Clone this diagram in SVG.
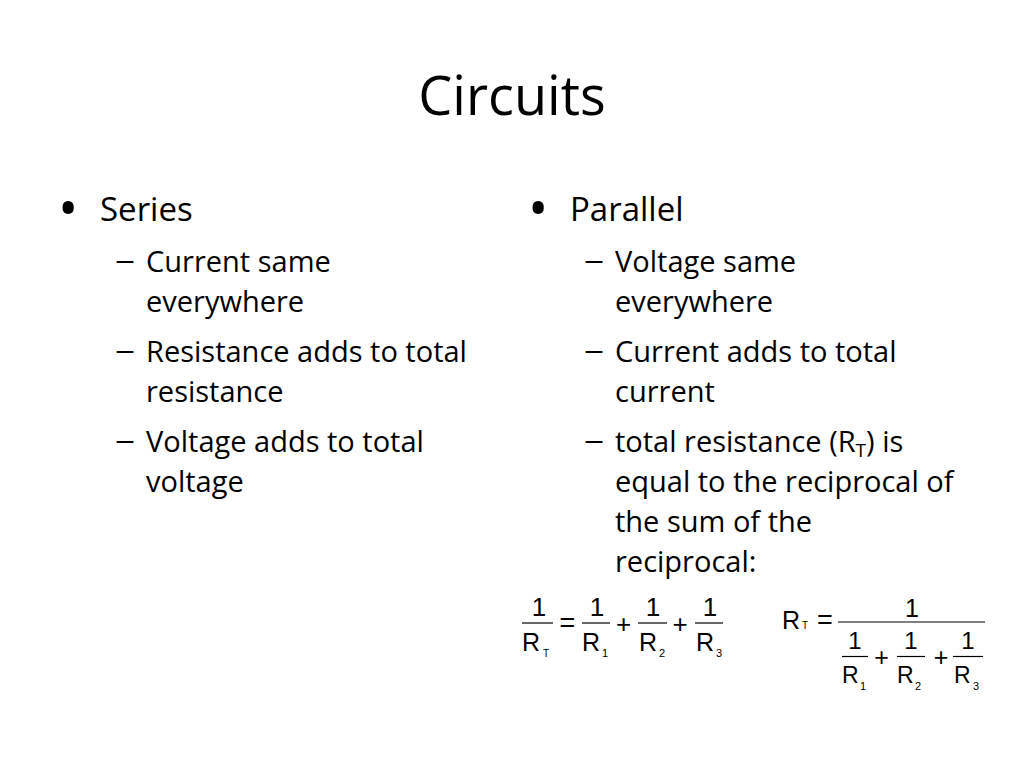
<svg xmlns="http://www.w3.org/2000/svg" width="1024" height="768" viewBox="0 0 1024 768">
<style>
.t{font-family:"Open Sans","Liberation Sans",sans-serif;fill:#000}
.title{font-size:54px}
.l1{font-size:33px}
.l2{font-size:29px}
.b{font-family:"Open Sans","Liberation Sans",sans-serif;font-size:54px;fill:#000}
.d{font-family:"Open Sans","Liberation Sans",sans-serif;font-size:29px;fill:#000}
.m{font-family:"Liberation Sans",Arial,sans-serif;fill:#000}
.fl{stroke:#000;stroke-width:1.2}
</style>
<rect width="1024" height="768" fill="#fff"/>
<g id="title"><text class="t title" x="512" y="115" text-anchor="middle">Circuits</text></g>
<g id="series">
<text class="b" x="58" y="228">•</text>
<text class="t l1" x="100" y="221">Series</text>
<text class="d" x="115" y="270" textLength="20" lengthAdjust="spacingAndGlyphs">–</text>
<text class="t l2" x="146" y="272">Current same</text>
<text class="t l2" x="146" y="312">everywhere</text>
<text class="d" x="115" y="360" textLength="20" lengthAdjust="spacingAndGlyphs">–</text>
<text class="t l2" x="146" y="362">Resistance adds to total</text>
<text class="t l2" x="146" y="402">resistance</text>
<text class="d" x="115" y="450" textLength="20" lengthAdjust="spacingAndGlyphs">–</text>
<text class="t l2" x="146" y="452">Voltage adds to total</text>
<text class="t l2" x="146" y="492">voltage</text>
</g>
<g id="parallel">
<text class="b" x="528" y="228">•</text>
<text class="t l1" x="570" y="221">Parallel</text>
<text class="d" x="584" y="270" textLength="20" lengthAdjust="spacingAndGlyphs">–</text>
<text class="t l2" x="615" y="272">Voltage same</text>
<text class="t l2" x="615" y="312">everywhere</text>
<text class="d" x="584" y="360" textLength="20" lengthAdjust="spacingAndGlyphs">–</text>
<text class="t l2" x="615" y="362">Current adds to total</text>
<text class="t l2" x="615" y="402">current</text>
<text class="d" x="584" y="450" textLength="20" lengthAdjust="spacingAndGlyphs">–</text>
<text class="t l2" x="615" y="452">total resistance (R<tspan font-size="19" dy="5">T</tspan><tspan dy="-5">) is</tspan></text>
<text class="t l2" x="615" y="492">equal to the reciprocal of</text>
<text class="t l2" x="615" y="532">the sum of the</text>
<text class="t l2" x="615" y="572">reciprocal:</text>
</g>
<g id="formula-series">
<line class="fl" x1="522" y1="623" x2="553" y2="623"/>
<text class="m" x="539" y="616" font-size="26" text-anchor="middle">1</text>
<text class="m" x="522" y="651" font-size="25">R</text>
<text class="m" x="543" y="657" font-size="10">T</text>
<text class="m" x="567.5" y="632" font-size="27" text-anchor="middle">=</text>
<line class="fl" x1="582" y1="623" x2="610" y2="623"/>
<text class="m" x="597" y="616" font-size="26" text-anchor="middle">1</text>
<text class="m" x="582" y="651" font-size="25">R</text>
<text class="m" x="602" y="657" font-size="11">1</text>
<text class="m" x="623.5" y="633" font-size="26" text-anchor="middle">+</text>
<line class="fl" x1="638" y1="623" x2="667" y2="623"/>
<text class="m" x="653" y="616" font-size="26" text-anchor="middle">1</text>
<text class="m" x="639" y="651" font-size="25">R</text>
<text class="m" x="659" y="657" font-size="11">2</text>
<text class="m" x="680" y="633" font-size="26" text-anchor="middle">+</text>
<line class="fl" x1="695" y1="623" x2="723" y2="623"/>
<text class="m" x="710" y="616" font-size="26" text-anchor="middle">1</text>
<text class="m" x="696" y="651" font-size="25">R</text>
<text class="m" x="716" y="657" font-size="11">3</text>
</g>
<g id="formula-parallel">
<text class="m" x="782" y="629" font-size="25">R</text>
<text class="m" x="802" y="629" font-size="10">T</text>
<text class="m" x="825" y="629" font-size="27" text-anchor="middle">=</text>
<line class="fl" x1="838" y1="622" x2="985" y2="622"/>
<text class="m" x="912" y="617" font-size="25" text-anchor="middle">1</text>
<line class="fl" x1="842" y1="656.5" x2="868" y2="656.5"/>
<text class="m" x="855" y="649" font-size="24" text-anchor="middle">1</text>
<text class="m" x="842" y="683" font-size="23">R</text>
<text class="m" x="860" y="690" font-size="11">1</text>
<text class="m" x="881.5" y="666" font-size="25" text-anchor="middle">+</text>
<line class="fl" x1="897" y1="656.5" x2="925" y2="656.5"/>
<text class="m" x="911" y="649" font-size="24" text-anchor="middle">1</text>
<text class="m" x="897" y="683" font-size="23">R</text>
<text class="m" x="915" y="690" font-size="11">2</text>
<text class="m" x="941" y="666" font-size="25" text-anchor="middle">+</text>
<line class="fl" x1="953" y1="656.5" x2="983" y2="656.5"/>
<text class="m" x="968" y="649" font-size="24" text-anchor="middle">1</text>
<text class="m" x="954" y="683" font-size="23">R</text>
<text class="m" x="973" y="690" font-size="11">3</text>
</g>
</svg>
